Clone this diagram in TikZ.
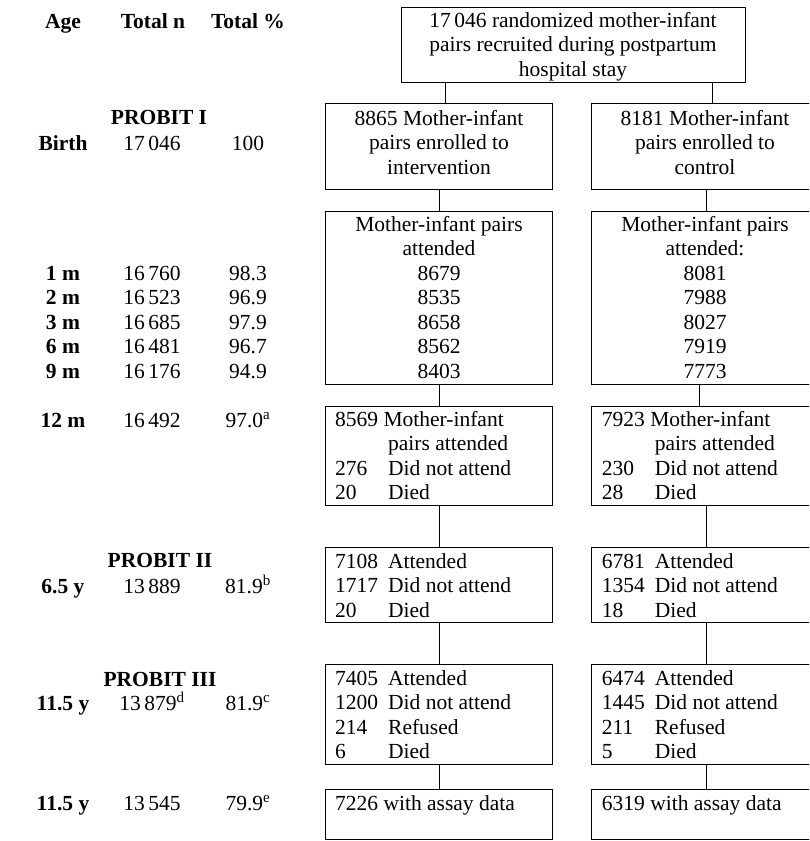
\documentclass[tikz,border=0pt]{standalone}
\usepackage{fontspec}
\setmainfont{Liberation Serif}
\usetikzlibrary{fit}
\newcommand\fsz{\fontsize{21.5}{24.5}\selectfont}

\begin{document}
\begin{tikzpicture}[
        x=1pt, y=-1pt,
        box/.style={draw, rectangle, inner sep=0pt, line width=0.8pt},
        txt/.style={font=\fsz, inner sep=0pt, anchor=base},
        ltxt/.style={txt, anchor=base west},
        bold/.style={txt, font=\fsz\bfseries},
        ]
    \clip (0,0) rectangle (809,841);
    % left table
    \node[bold] (hage) at (63,28) {Age};
    \node[bold] (hn) at (153,28) {Total n};
    \node[bold] (hpct) at (248,28) {Total \%};
    \node[bold] (pI) at (159,124) {PROBIT I};
    \node[bold] (pII) at (160,567) {PROBIT II};
    \node[bold] (pIII) at (160,686) {PROBIT III};
    \foreach \nm/\y/\a/\n/\p in {
        birth/150/Birth/17\,046/100,
        m1/280/1 m/16\,760/98.3,
        m2/304.5/2 m/16\,523/96.9,
        m3/329/3 m/16\,685/97.9,
        m6/353.5/6 m/16\,481/96.7,
        m9/378/9 m/16\,176/94.9,
        m12/427/12 m/16\,492/97.0\textsuperscript{a},
        ya/593/6.5 y/13\,889/81.9\textsuperscript{b},
        yb/710/11.5 y/13\,879\textsuperscript{d}/81.9\textsuperscript{c},
        yc/810/11.5 y/13\,545/79.9\textsuperscript{e}}
    {
        \node[bold] (age\nm) at (63,\y) {\a};
        \node[txt] (n\nm) at (152,\y) {\n};
        \node[txt] (pct\nm) at (248,\y) {\p};
    }

    % boxes
    \node[box, fit={(401.7,7.5) (745,82)}] (rand) {};
    \node[box, fit={(325,103) (552.5,189)}] (int1) {};
    \node[box, fit={(591.7,103) (818,189)}] (ctl1) {};
    \node[box, fit={(325,211) (552.5,384)}] (int2) {};
    \node[box, fit={(591.7,211) (818,384)}] (ctl2) {};
    \node[box, fit={(325,406) (552.5,505.7)}] (int3) {};
    \node[box, fit={(591.7,406) (818,505.7)}] (ctl3) {};
    \node[box, fit={(325,547) (552.5,622)}] (int4) {};
    \node[box, fit={(591.7,547) (818,622)}] (ctl4) {};
    \node[box, fit={(325,664) (552.5,764)}] (int5) {};
    \node[box, fit={(591.7,664) (818,764)}] (ctl5) {};
    \node[box, fit={(325,789) (552.5,839.5)}] (int6) {};
    \node[box, fit={(591.7,789) (818,839.5)}] (ctl6) {};

    % box texts
    \node[txt] (trand) at (573,27) {\begin{tabular}[t]{@{}c@{}}17\,046 randomized mother-infant\\
        pairs recruited during postpartum\\ hospital stay\end{tabular}};
    \node[txt] (tint1) at (439,125) {\begin{tabular}[t]{@{}c@{}}8865 Mother-infant\\
        pairs enrolled to\\ intervention\end{tabular}};
    \node[txt] (tctl1) at (705,125) {\begin{tabular}[t]{@{}c@{}}8181 Mother-infant\\
        pairs enrolled to\\ control\end{tabular}};
    \node[txt] (tint2) at (439,231) {\begin{tabular}[t]{@{}c@{}}Mother-infant pairs\\
        attended\\ 8679\\ 8535\\ 8658\\ 8562\\ 8403\end{tabular}};
    \node[txt] (tctl2) at (705,231) {\begin{tabular}[t]{@{}c@{}}Mother-infant pairs\\
        attended:\\ 8081\\ 7988\\ 8027\\ 7919\\ 7773\end{tabular}};
    \node[ltxt] (tint3) at (335,426) {\begin{tabular}[t]{@{}p{53pt}@{}l@{}}
        \multicolumn{2}{@{}l@{}}{8569 Mother-infant}\\ & pairs attended\\
        276 & Did not attend\\ 20 & Died\end{tabular}};
    \node[ltxt] (tctl3) at (601.7,426) {\begin{tabular}[t]{@{}p{53pt}@{}l@{}}
        \multicolumn{2}{@{}l@{}}{7923 Mother-infant}\\ & pairs attended\\
        230 & Did not attend\\ 28 & Died\end{tabular}};
    \node[ltxt] (tint4) at (335,568) {\begin{tabular}[t]{@{}p{53pt}@{}l@{}}
        7108 & Attended\\ 1717 & Did not attend\\ 20 & Died\end{tabular}};
    \node[ltxt] (tctl4) at (601.7,568) {\begin{tabular}[t]{@{}p{53pt}@{}l@{}}
        6781 & Attended\\ 1354 & Did not attend\\ 18 & Died\end{tabular}};
    \node[ltxt] (tint5) at (335,685) {\begin{tabular}[t]{@{}p{53pt}@{}l@{}}
        7405 & Attended\\ 1200 & Did not attend\\ 214 & Refused\\ 6 & Died\end{tabular}};
    \node[ltxt] (tctl5) at (601.7,685) {\begin{tabular}[t]{@{}p{53pt}@{}l@{}}
        6474 & Attended\\ 1445 & Did not attend\\ 211 & Refused\\ 5 & Died\end{tabular}};
    \node[ltxt] (tint6) at (335,810) {7226 with assay data};
    \node[ltxt] (tctl6) at (601.7,810) {6319 with assay data};

    % connectors
    \foreach \a/\b/\x in {rand/int1/445.7, rand/ctl1/712,
        int1/int2/439, ctl1/ctl2/706, int2/int3/439, ctl2/ctl3/699,
        int3/int4/439, ctl3/ctl4/706, int4/int5/439, ctl4/ctl5/706,
        int5/int6/439, ctl5/ctl6/706}
        \draw[line width=0.8pt] (\a.south -| \x,0) -- (\b.north -| \x,0);
\end{tikzpicture}
\end{document}
